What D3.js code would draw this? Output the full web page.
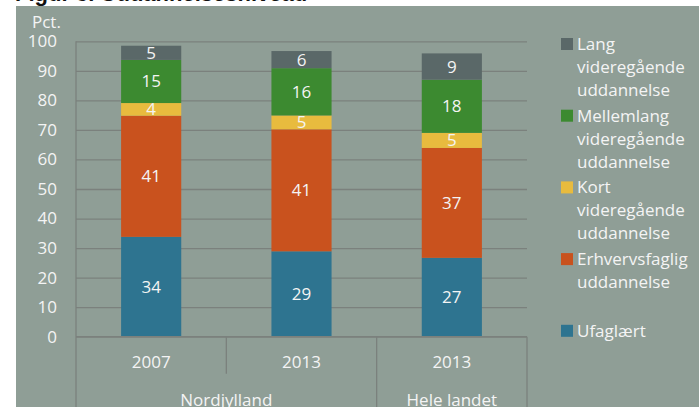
<!DOCTYPE html>
<html>
<head>
<meta charset="utf-8">
<script src="https://cdn.jsdelivr.net/npm/d3@7"></script>
<style>
  body { margin: 0; background: #fff; }
  svg { display: block; }
  text { font-family: "Open Sans", "Noto Sans", sans-serif; }
</style>
</head>
<body>
<div id="chart"></div>
<script>
// categories: year columns and their groups
const columns = ["2007", "2013", "2013b"];
const columnLabels = ["2007", "2013", "2013"];
const groups = ["Nordjylland", "Nordjylland", "Hele landet"];

// series, bottom to top of the stack
const seriesNames = ["Ufaglært", "Erhvervsfaglig uddannelse", "Kort videregående uddannelse",
  "Mellemlang videregående uddannelse", "Lang videregående uddannelse"];
const ufaglaert = [33.8, 28.9, 26.7];
const erhvervsfaglig = [41.0, 41.3, 37.2];
const kort = [4.3, 4.7, 5.1];
const mellemlang = [14.6, 16.0, 18.0];
const lang = [4.8, 5.8, 8.9];

// legend text lines (top to bottom)
const legendLines = [
  ["Lang", "videregående", "uddannelse"],
  ["Mellemlang", "videregående", "uddannelse"],
  ["Kort", "videregående", "uddannelse"],
  ["Erhvervsfaglig", "uddannelse"],
  ["Ufaglært"]
];

const yTicks = [0, 10, 20, 30, 40, 50, 60, 70, 80, 90, 100];

const colors = ["#2e7490", "#c9521e", "#e8bb3e", "#3c8a30", "#5a6868"];
const W = 699, H = 407;
const bg = "#8f9e96", gridColor = "#7b817d", txt = "#f4f4f4";

const svg = d3.select("#chart").append("svg")
  .attr("width", W).attr("height", H);

// title, mostly cut off by the panel
svg.append("text")
  .attr("x", 15).attr("y", 0.5)
  .style("font-family", "Liberation Sans, Arial, sans-serif")
  .style("font-weight", "bold").style("font-size", "22px")
  .attr("fill", "#111")
  .text("Figur 3. Uddannelsesniveau");

svg.append("rect")
  .attr("x", 16).attr("y", 6).attr("width", W - 16).attr("height", H - 6)
  .attr("fill", bg);

const x = d3.scaleBand().domain(columns).range([76, 527]).padding(0);
const y = d3.scaleLinear().domain([0, 100]).range([336.7, 41.3]);

// gridlines + value axis labels
const yAxis = svg.append("g")
  .attr("transform", "translate(76,0)")
  .call(d3.axisLeft(y).tickValues(yTicks).tickSize(-(527 - 76)).tickPadding(19));
yAxis.select(".domain").remove();
yAxis.selectAll("line").attr("stroke", gridColor).attr("stroke-width", 1.3);
yAxis.selectAll("text")
  .attr("fill", txt).style("font-size", "17px")
  .style("font-family", "Open Sans, sans-serif");

svg.append("text")
  .attr("x", 32).attr("y", 28)
  .attr("fill", txt).style("font-size", "17px")
  .text("Pct.");

// stacked bars
const table = columns.map((c, i) => ({
  col: c,
  [seriesNames[0]]: ufaglaert[i],
  [seriesNames[1]]: erhvervsfaglig[i],
  [seriesNames[2]]: kort[i],
  [seriesNames[3]]: mellemlang[i],
  [seriesNames[4]]: lang[i]
}));
const stacked = d3.stack().keys(seriesNames)(table);
const bw = x.bandwidth() * 0.4;
const off = (x.bandwidth() - bw) / 2;

const layer = svg.append("g").selectAll("g")
  .data(stacked).join("g")
  .attr("fill", (d, i) => colors[i]);

layer.selectAll("rect")
  .data(d => d).join("rect")
  .attr("x", d => x(d.data.col) + off)
  .attr("y", d => y(d[1]))
  .attr("width", bw)
  .attr("height", d => y(d[0]) - y(d[1]));

layer.selectAll("text")
  .data(d => d).join("text")
  .attr("x", d => x(d.data.col) + x.bandwidth() / 2)
  .attr("y", d => (y(d[0]) + y(d[1])) / 2)
  .attr("dy", "0.35em")
  .attr("text-anchor", "middle")
  .attr("fill", txt).style("font-size", "17px")
  .text(d => d3.format(".0f")(d[1] - d[0]));

// category axis frame
const axisG = svg.append("g").attr("stroke", gridColor).attr("stroke-width", 1.3);
axisG.append("line")
  .attr("x1", 76).attr("x2", 527).attr("y1", y(0)).attr("y2", y(0));
axisG.append("line")
  .attr("x1", 76).attr("x2", 76).attr("y1", y(100)).attr("y2", H);
columns.forEach((c, i) => {
  const xe = x(c) + x.bandwidth();
  const groupEnd = i === columns.length - 1 || groups[i + 1] !== groups[i];
  axisG.append("line")
    .attr("x1", xe).attr("x2", xe)
    .attr("y1", y(0)).attr("y2", groupEnd ? H : y(0) + 37);
});

svg.append("g").selectAll("text")
  .data(columns).join("text")
  .attr("x", d => x(d) + x.bandwidth() / 2)
  .attr("y", 362)
  .attr("dy", "0.35em")
  .attr("text-anchor", "middle")
  .attr("fill", txt).style("font-size", "17px")
  .text((d, i) => columnLabels[i]);

const groupNames = Array.from(new Set(groups));
svg.append("g").selectAll("text")
  .data(groupNames).join("text")
  .attr("x", g => {
    const cols = columns.filter((c, i) => groups[i] === g);
    return (x(cols[0]) + x(cols[cols.length - 1]) + x.bandwidth()) / 2;
  })
  .attr("y", 400)
  .attr("dy", "0.35em")
  .attr("text-anchor", "middle")
  .attr("fill", txt).style("font-size", "17px")
  .text(g => g);

// legend
const legendColors = colors.slice().reverse();
const leg = svg.append("g").selectAll("g")
  .data(legendLines).join("g")
  .attr("transform", (d, i) => `translate(561,${44 + i * 71.7})`);
leg.append("rect")
  .attr("x", 0).attr("y", -6).attr("width", 12).attr("height", 12)
  .attr("fill", (d, i) => legendColors[i]);
leg.each(function(lines) {
  const t = d3.select(this).append("text")
    .attr("fill", txt).style("font-size", "17px");
  lines.forEach((l, j) => {
    t.append("tspan").attr("x", 16).attr("y", j * 23).attr("dy", "0.35em").text(l);
  });
});
</script>
</body>
</html>
